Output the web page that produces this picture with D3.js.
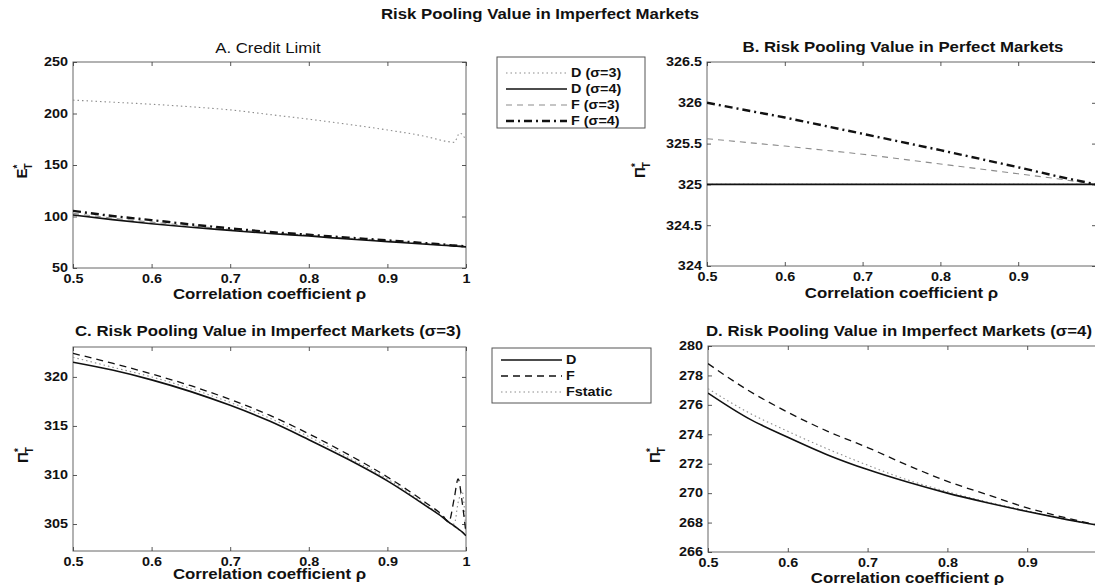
<!DOCTYPE html>
<html lang="en">
<head>
<meta charset="utf-8">
<title>Risk Pooling Value in Imperfect Markets</title>
<script src="https://cdn.jsdelivr.net/npm/d3@7"></script>
<style>
  body {
    margin: 0;
    padding: 0;
    background: #fff;
  }

  #chart {
    display: block;
    font-family: "Liberation Sans", Arial, Helvetica, sans-serif;
  }

  #chart text {
    fill: #111;
  }

  .wide,
  .wide-r,
  .wide-l {
    transform-box: fill-box;
    transform: scaleX(1.2);
  }
  .wide { transform-origin: center; }
  .wide-r { transform-origin: right center; }
  .wide-l { transform-origin: left center; }
</style>
</head>
<body>
<svg id="chart" width="1095" height="585"></svg>
<script>
// correlation coefficient grids
const rhoA = [0.5, 0.55, 0.6, 0.65, 0.7, 0.75, 0.8, 0.85, 0.9, 0.95, 0.975, 0.985, 0.992, 1.0];
const rhoB = [0.5, 0.6, 0.7, 0.8, 0.9, 0.95, 1.0];
const rhoC = [0.5, 0.55, 0.6, 0.65, 0.7, 0.75, 0.8, 0.85, 0.9, 0.95, 0.97, 0.978, 0.985, 0.99, 0.995, 1.0];
const rhoD = [0.5, 0.55, 0.6, 0.65, 0.7, 0.75, 0.8, 0.85, 0.9, 0.95, 1.0];
const xTicks = [0.5, 0.6, 0.7, 0.8, 0.9, 1];
const xTicksCut = [0.5, 0.6, 0.7, 0.8, 0.9]; // right-hand panels run off the page

// A. credit limit E*_T
const creditD3 = [213, 211, 209, 206.5, 203.5, 199, 194.5, 189.5, 184, 177.5, 173, 172, 181, 174];
const creditD4 = [101.5, 97, 93, 89.5, 86.5, 83.5, 81, 78.2, 75.6, 73, 71.8, 71.2, 71, 70.5];
const creditF3 = [103, 98.5, 94.5, 91, 87.5, 84.5, 81.8, 79, 76.5, 73.8, 72.5, 71.8, 71.5, 71];
const creditF4 = [105.5, 100.5, 96.5, 92.3, 88.5, 85, 82.3, 79.5, 76.8, 74, 72.6, 71.8, 71.5, 71];
const yTicksA = [50, 100, 150, 200, 250];

// B. perfect markets
const perfectD3 = [325, 325, 325, 325, 325, 325, 325];
const perfectD4 = [325, 325, 325, 325, 325, 325, 325];
const perfectF3 = [325.56, 325.47, 325.37, 325.25, 325.13, 325.07, 325.0];
const perfectF4 = [326.0, 325.82, 325.62, 325.42, 325.21, 325.1, 325.0];
const yTicksB = [324, 324.5, 325, 325.5, 326, 326.5];

// C. imperfect markets, sigma = 3
const imperfC_D = [321.5, 320.7, 319.7, 318.5, 317.1, 315.5, 313.6, 311.6, 309.4, 306.8, 305.7, 305.2, 304.8, 304.5, 304.2, 303.8];
const imperfC_F = [322.4, 321.4, 320.3, 319.1, 317.7, 316.1, 314.2, 312.1, 309.8, 307.1, 305.9, 305.2, 307.6, 309.6, 307.3, 304.0];
const imperfC_Fs = [322.0, 321.0, 320.0, 318.8, 317.4, 315.8, 313.9, 311.8, 309.6, 306.9, 305.8, 305.2, 305.0, 307.2, 308.3, 304.2];
const yTicksC = [305, 310, 315, 320];

// D. imperfect markets, sigma = 4
const imperfD_D = [276.8, 275.1, 273.8, 272.6, 271.6, 270.75, 270.0, 269.35, 268.75, 268.2, 267.7];
const imperfD_F = [278.8, 277.0, 275.5, 274.2, 273.1, 271.9, 270.8, 269.9, 269.0, 268.3, 267.7];
const imperfD_Fs = [277.1, 275.5, 274.2, 273.0, 271.9, 270.9, 270.1, 269.4, 268.8, 268.2, 267.7];
const yTicksD = [266, 268, 270, 272, 274, 276, 278, 280];

const legendAB = ['D (σ=3)', 'D (σ=4)', 'F (σ=3)', 'F (σ=4)'];
const legendCD = ['D', 'F', 'Fstatic'];

// line styles
const styles = {
  dotGray: { stroke: '#8c8c8c', width: 1.1, dash: '1.5,3' },
  solid: { stroke: '#111', width: 1.6, dash: null },
  dashGray: { stroke: '#8c8c8c', width: 1.1, dash: '6,5' },
  dashDot: { stroke: '#111', width: 2.4, dash: '8,4,2,4' },
  dashBlack: { stroke: '#111', width: 1.3, dash: '7,5' }
};

const panels = [
  {
    title: 'A. Credit Limit', titleWeight: 'normal', ylab: 'E', ticks: xTicks,
    left: 73, right: 466, top: 62, bottom: 268, yDomain: [50, 250], yTicks: yTicksA,
    titleX: 268, titleY: 53, xlabY: 299, ylabX: 27, curve: d3.curveMonotoneX,
    series: [
      { rho: rhoA, vals: creditD3, style: 'dotGray' },
      { rho: rhoA, vals: creditF3, style: 'dashGray' },
      { rho: rhoA, vals: creditD4, style: 'solid' },
      { rho: rhoA, vals: creditF4, style: 'dashDot' }
    ]
  },
  {
    title: 'B. Risk Pooling Value in Perfect Markets', titleWeight: 'bold', ylab: 'Π', ticks: xTicksCut,
    left: 707, right: 1096, top: 62, bottom: 266, yDomain: [324, 326.5], yTicks: yTicksB,
    titleX: 903, titleY: 52, xlabY: 298, ylabX: 645, curve: d3.curveLinear,
    series: [
      { rho: rhoB, vals: perfectD3, style: 'dotGray' },
      { rho: rhoB, vals: perfectF3, style: 'dashGray' },
      { rho: rhoB, vals: perfectD4, style: 'solid' },
      { rho: rhoB, vals: perfectF4, style: 'dashDot' }
    ]
  },
  {
    title: 'C. Risk Pooling Value in Imperfect Markets (σ=3)', titleWeight: 'bold', ylab: 'Π', ticks: xTicks,
    left: 73, right: 466, top: 347, bottom: 551, yDomain: [302.25, 323.05], yTicks: yTicksC,
    titleX: 268, titleY: 336, xlabY: 579, ylabX: 28, curve: d3.curveMonotoneX,
    series: [
      { rho: rhoC, vals: imperfC_Fs, style: 'dotGray' },
      { rho: rhoC, vals: imperfC_F, style: 'dashBlack' },
      { rho: rhoC, vals: imperfC_D, style: 'solid' }
    ]
  },
  {
    title: 'D. Risk Pooling Value in Imperfect Markets (σ=4)', titleWeight: 'bold', ylab: 'Π', ticks: xTicksCut,
    left: 708, right: 1107, top: 346, bottom: 552, yDomain: [266, 280], yTicks: yTicksD,
    titleX: 899, titleY: 336, xlabY: 583, ylabX: 660, curve: d3.curveMonotoneX,
    series: [
      { rho: rhoD, vals: imperfD_Fs, style: 'dotGray' },
      { rho: rhoD, vals: imperfD_F, style: 'dashBlack' },
      { rho: rhoD, vals: imperfD_D, style: 'solid' }
    ]
  }
];

const svg = d3.select('#chart');

svg.append('text')
  .attr('class', 'wide')
  .attr('x', 540).attr('y', 19)
  .attr('text-anchor', 'middle')
  .style('font-size', '14px').style('font-weight', 'bold')
  .text('Risk Pooling Value in Imperfect Markets');

function applyStyle(sel, key) {
  const s = styles[key];
  sel.attr('fill', 'none')
    .attr('stroke', s.stroke)
    .attr('stroke-width', s.width)
    .attr('stroke-dasharray', s.dash);
}

function styleAxis(g, cls) {
  g.select('.domain').remove();
  g.selectAll('.tick line').attr('stroke', '#444').attr('stroke-width', 0.9);
  g.selectAll('.tick text')
    .attr('class', cls)
    .style('font-size', '12px')
    .style('font-weight', 'bold')
    .attr('fill', '#111');
}

panels.forEach((p, i) => {
  const x = d3.scaleLinear().domain([0.5, 1]).range([p.left, p.right]);
  const y = d3.scaleLinear().domain(p.yDomain).range([p.bottom, p.top]);
  const g = svg.append('g');
  const clipId = 'clip' + i;

  g.append('clipPath').attr('id', clipId)
    .append('rect')
    .attr('x', p.left).attr('y', p.top)
    .attr('width', p.right - p.left).attr('height', p.bottom - p.top);

  // frame
  g.append('rect')
    .attr('x', p.left).attr('y', p.top)
    .attr('width', p.right - p.left).attr('height', p.bottom - p.top)
    .attr('fill', 'none').attr('stroke', '#666').attr('stroke-width', 1);

  // axes, ticks pointing inwards like matlab
  g.append('g')
    .attr('transform', `translate(0,${p.bottom})`)
    .call(d3.axisBottom(x).tickValues(p.ticks).tickFormat(d3.format('~g'))
      .tickSizeInner(-4).tickSizeOuter(0).tickPadding(6))
    .call(a => styleAxis(a, 'wide'));
  g.append('g')
    .attr('transform', `translate(0,${p.top})`)
    .call(d3.axisTop(x).tickValues(p.ticks).tickFormat('').tickSizeInner(-4).tickSizeOuter(0))
    .call(a => styleAxis(a, 'wide'));
  g.append('g')
    .attr('transform', `translate(${p.left},0)`)
    .call(d3.axisLeft(y).tickValues(p.yTicks).tickFormat(d3.format('~g'))
      .tickSizeInner(-4).tickSizeOuter(0).tickPadding(5))
    .call(a => styleAxis(a, 'wide-r'));
  g.append('g')
    .attr('transform', `translate(${p.right},0)`)
    .call(d3.axisRight(y).tickValues(p.yTicks).tickFormat('').tickSizeInner(-4).tickSizeOuter(0))
    .call(a => styleAxis(a, 'wide'));

  // curves
  const line = d3.line()
    .x(d => x(d[0]))
    .y(d => y(d[1]))
    .curve(p.curve);

  p.series.forEach(s => {
    g.append('path')
      .datum(d3.zip(s.rho, s.vals))
      .attr('clip-path', `url(#${clipId})`)
      .attr('d', line)
      .call(applyStyle, s.style);
  });

  // titles and labels
  const cx = (p.left + p.right) / 2;
  g.append('text')
    .attr('class', 'wide')
    .attr('x', p.titleX).attr('y', p.titleY)
    .attr('text-anchor', 'middle')
    .style('font-size', '14px').style('font-weight', p.titleWeight)
    .text(p.title);

  g.append('text')
    .attr('class', 'wide')
    .attr('x', cx).attr('y', p.xlabY)
    .attr('text-anchor', 'middle')
    .style('font-size', '14px').style('font-weight', 'bold')
    .text('Correlation coefficient ρ');

  const cy = (p.top + p.bottom) / 2;
  const yl = g.append('text')
    .attr('transform', `translate(${p.ylabX},${cy + 6}) rotate(-90)`)
    .attr('text-anchor', 'middle')
    .style('font-size', '15px').style('font-weight', 'bold');
  yl.append('tspan').text(p.ylab);
  yl.append('tspan').attr('dy', -6).style('font-size', '10px').text('*');
  yl.append('tspan').attr('dx', -5).attr('dy', 11).style('font-size', '10px').text('T');
});

// legends
function drawLegend(box, rows, labels, keys) {
  const lg = svg.append('g');
  lg.append('rect')
    .attr('x', box.x).attr('y', box.y)
    .attr('width', box.w).attr('height', box.h)
    .attr('fill', '#fff').attr('stroke', '#555').attr('stroke-width', 1);
  labels.forEach((lab, i) => {
    lg.append('line')
      .attr('x1', box.x + 9).attr('x2', box.x + 70)
      .attr('y1', rows[i]).attr('y2', rows[i])
      .call(applyStyle, keys[i]);
    lg.append('text')
      .attr('class', 'wide-l')
      .attr('x', box.x + 74).attr('y', rows[i] + 4)
      .style('font-size', '12px').style('font-weight', 'bold')
      .text(lab);
  });
}

drawLegend({ x: 497, y: 57, w: 148, h: 71 }, [73, 89, 105, 121], legendAB,
  ['dotGray', 'solid', 'dashGray', 'dashDot']);
drawLegend({ x: 492, y: 348, w: 159, h: 55 }, [360, 376, 392], legendCD,
  ['solid', 'dashBlack', 'dotGray']);
</script>
</body>
</html>
